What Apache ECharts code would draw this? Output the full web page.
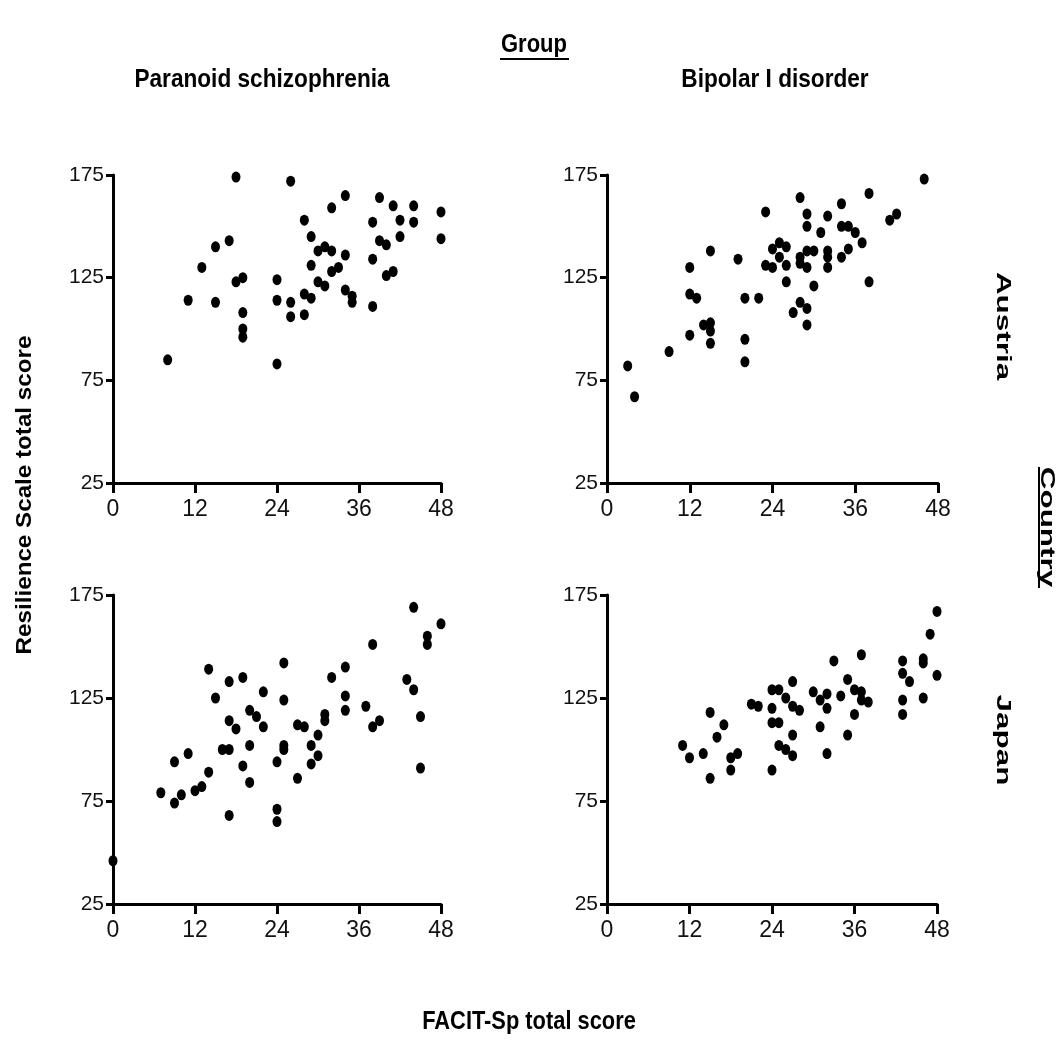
<!DOCTYPE html>
<html>
<head>
<meta charset="utf-8">
<script src="https://cdn.jsdelivr.net/npm/echarts@6/dist/echarts.min.js"></script>
<style>
  html, body { margin: 0; padding: 0; background: #fff; }
  #chart { width: 1059px; height: 1044px; }
</style>
</head>
<body>
<div id="chart"></div>
<script>
// FACIT-Sp (x) vs Resilience Scale (y), one array per panel
const schizoAustria = [
  [18,174],[26,172],[34,165],[39,164],[41,160],[44,160],[48,157],[32,159],[28,153],[38,152],
  [42,153],[44,152],[29,145],[42,145],[48,144],[39,143],[40,141],[17,143],[15,140],[30,138],
  [31,140],[32,138],[34,136],[13,130],[29,131],[32,128],[33,130],[38,134],[40,126],[41,128],
  [18,123],[19,125],[24,124],[30,123],[31,121],[11,114],[15,113],[24,114],[26,113],[28,117],
  [29,115],[34,119],[35,116],[35,113],[38,111],[26,106],[28,107],[19,108],[19,100],[19,96],
  [8,85],[24,83]
];
const bipolarAustria = [
  [46,173],[38,166],[28,164],[34,161],[23,157],[29,156],[32,155],[42,156],[41,153],[29,150],
  [34,150],[35,150],[36,147],[31,147],[37,142],[24,139],[25,142],[26,140],[25,135],[23,131],
  [24,130],[26,131],[28,135],[28,132],[29,138],[30,138],[29,130],[32,138],[32,135],[32,130],
  [34,135],[35,139],[15,138],[19,134],[12,130],[26,123],[30,121],[38,123],[12,117],[13,115],
  [20,115],[22,115],[28,113],[29,110],[27,108],[29,102],[14,102],[15,103],[15,99],[15,93],
  [12,97],[20,95],[9,89],[20,84],[3,82],[4,67]
];
const schizoJapan = [
  [44,169],[48,161],[46,155],[46,151],[38,151],[14,139],[25,142],[34,140],[32,135],[19,135],
  [17,133],[43,134],[44,129],[22,128],[15,125],[25,124],[34,126],[34,119],[37,121],[20,119],
  [21,116],[22,111],[17,114],[18,110],[31,117],[31,114],[38,111],[39,114],[45,116],[27,112],
  [28,111],[30,107],[30,97],[29,102],[29,93],[25,102],[25,100],[16,100],[17,100],[20,102],
  [11,98],[9,94],[24,94],[14,89],[19,92],[45,91],[27,86],[20,84],[7,79],[10,78],
  [12,80],[13,82],[9,74],[17,68],[24,71],[24,65],[0,46]
];
const bipolarJapan = [
  [48,167],[47,156],[37,146],[33,143],[43,143],[46,144],[46,142],[43,137],[44,133],[48,136],
  [35,134],[27,133],[24,129],[25,129],[30,128],[32,127],[36,129],[37,128],[34,126],[26,125],
  [31,124],[37,124],[38,123],[46,125],[43,124],[21,122],[22,121],[27,121],[28,119],[24,120],
  [32,120],[15,118],[36,117],[43,117],[17,112],[24,113],[25,113],[31,111],[16,106],[27,107],
  [35,107],[11,102],[12,96],[14,98],[25,102],[26,100],[27,97],[32,98],[18,96],[19,98],
  [18,90],[24,90],[15,86]
];

const groups = ["Paranoid schizophrenia", "Bipolar I disorder"];
const countries = ["Austria", "Japan"];
const xTicks = { min: 0, max: 48, step: 12 };
const yTicks = { min: 25, max: 175, step: 50 };

const panels = [
  { data: schizoAustria, grid: { left: 113, top: 175, width: 328, height: 308 } },
  { data: bipolarAustria, grid: { left: 607, top: 175, width: 331, height: 308 } },
  { data: schizoJapan, grid: { left: 113, top: 595, width: 328, height: 309 } },
  { data: bipolarJapan, grid: { left: 607, top: 595, width: 330, height: 309 } },
];

const font = "'Liberation Sans', Arial, sans-serif";

const axisLine = { show: true, onZero: false, lineStyle: { color: "#000", width: 3 } };

const chart = echarts.init(document.getElementById("chart"));

// bold label drawn through graphic, squeezed or stretched along its length
function label(text, x, y, size, sx, rot) {
  return {
    type: "text", x, y, rotation: rot || 0, scaleX: sx,
    style: { text, fontSize: size, fontWeight: "bold", fontFamily: font, fill: "#000", align: "center", verticalAlign: "middle" },
  };
}

const option = {
  animation: false,
  grid: panels.map((p) => Object.assign({ containLabel: false }, p.grid)),
  xAxis: panels.map((p, i) => ({
    gridIndex: i,
    type: "value",
    min: xTicks.min,
    max: xTicks.max,
    interval: xTicks.step,
    axisLine,
    axisTick: { show: true, length: 10, lineStyle: { color: "#000", width: 3 } },
    splitLine: { show: false },
    axisLabel: { margin: 15, color: "#111", fontSize: 23, fontFamily: font },
  })),
  yAxis: panels.map((p, i) => ({
    gridIndex: i,
    type: "value",
    min: yTicks.min,
    max: yTicks.max,
    interval: yTicks.step,
    axisLine,
    axisTick: { show: true, length: 7, lineStyle: { color: "#000", width: 3 } },
    splitLine: { show: false },
    axisLabel: { margin: 9, color: "#111", fontSize: 21, fontFamily: font },
  })),
  series: panels.map((p, i) => ({
    type: "scatter",
    xAxisIndex: i,
    yAxisIndex: i,
    data: p.data,
    symbol: "circle",
    symbolSize: [9, 11],
    itemStyle: { color: "#000", opacity: 1 },
  })),
  graphic: [
    label("Group", 534, 45, 25, 0.88),
    { type: "line", shape: { x1: 500, y1: 59, x2: 569, y2: 59 }, style: { stroke: "#000", lineWidth: 2 } },
    label(groups[0], 262, 80, 26, 0.87),
    label(groups[1], 775, 80, 26, 0.87),
    label("FACIT-Sp total score", 529, 1022, 26, 0.84),
    label("Resilience Scale total score", 25, 495, 22, 1.1, Math.PI / 2),
    label(countries[0], 1003, 326, 20, 1.57, -Math.PI / 2),
    label(countries[1], 1003, 740, 20, 1.57, -Math.PI / 2),
    label("Country", 1047, 527, 20, 1.57, -Math.PI / 2),
    { type: "line", shape: { x1: 1039, y1: 467, x2: 1039, y2: 588 }, style: { stroke: "#000", lineWidth: 2 } },
  ],
};

chart.setOption(option);
</script>
</body>
</html>
